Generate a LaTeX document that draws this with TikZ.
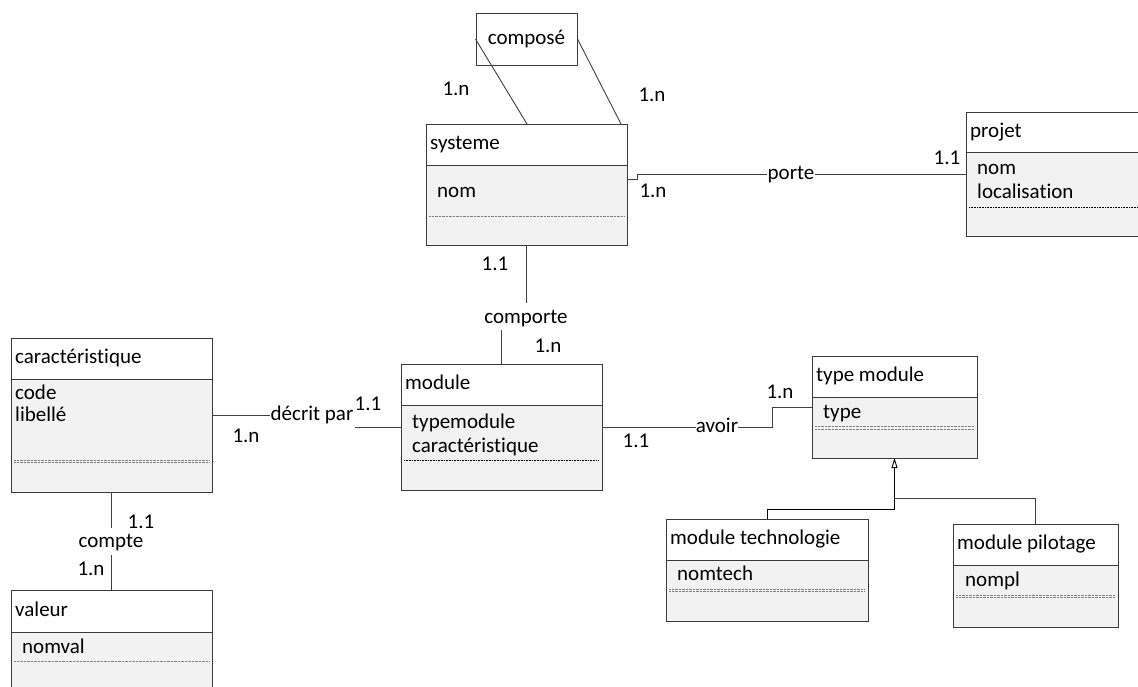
\documentclass[tikz,border=0pt]{standalone}
\usepackage{fontspec}
\setmainfont{Carlito}[Ligatures=NoCommon]
\usetikzlibrary{arrows.meta,calc}
\definecolor{bodycol}{HTML}{F2F2F2}
\definecolor{bordercol}{HTML}{3A3A3A}
\definecolor{dotcol}{HTML}{7F7F7F}
\definecolor{linecol}{HTML}{404040}
\newcommand\ent[7]{%
  \node[entshape, minimum width={(#4-#2)*1pt}, minimum height={(#5-#3)*1pt}] (#1) at ({(#2+#4)/2},{(#3+#5)/2}) {};
  \fill[bodycol] (#2,#6) rectangle (#4,#5);
  \draw[ebord] (#2,#3) rectangle (#4,#5);
  \draw[ebord] (#2,#6) -- (#4,#6);
  \node[txt] (#1-t) at ({#2+4},{(#3+#6)/2}) {#7};}
\begin{document}
\begin{tikzpicture}[x=1pt,y=-1pt,
  font=\fontsize{21}{25}\selectfont,
  entshape/.style={rectangle, inner sep=0pt, outer sep=0pt},
  ebord/.style={bordercol, line width=1pt},
  txt/.style={anchor=west, inner sep=0pt, text height=14pt, text depth=4pt},
  lbl/.style={inner sep=0pt, text height=14pt, text depth=4pt},
  conn/.style={linecol, line width=0.9pt},
  dotline/.style={dotcol, line width=0.8pt, dash pattern=on 0.7pt off 0.7pt},
  blkdot/.style={black, line width=0.7pt, dash pattern=on 0.8pt off 0.8pt}]
\useasboundingbox (0,0) rectangle (1138,686);
\clip (0,0) rectangle (1138,686);
\fill[white] (0,0) rectangle (1138,686);

% entities
\ent{sys}{426}{124}{627}{245}{165}{systeme}
\node[txt] (sys-a1) at (437,192) {nom};
\draw[dotline] (429,216) -- (624,216);

\ent{prj}{966}{112}{1170}{236}{152}{projet}
\node[txt] (prj-a1) at (977,169) {nom};
\node[txt] (prj-a2) at (977,193) {localisation};
\draw[blkdot] (969,207) -- (1170,207);

\ent{mod}{401}{364}{602}{490}{405}{module}
\node[txt] (mod-a1) at (412,423) {typemodule};
\node[txt] (mod-a2) at (412,447) {caractéristique};
\draw[blkdot] (404,460) -- (599,460);

\ent{car}{11}{338}{212}{492}{379}{caractéristique}
\node[txt] (car-a1) at (15,394) {code};
\node[txt] (car-a2) at (15,416) {libellé};
\draw[dotline] (14,460) -- (209,460);
\draw[dotline] (14,462.5) -- (209,462.5);

\ent{tm}{812}{356}{977}{458}{397}{type module}
\node[txt] (tm-a1) at (823,413) {type};
\draw[dotline] (815,426.5) -- (974,426.5);
\draw[dotline] (815,429) -- (974,429);

\ent{mt}{666}{519}{868}{621}{560}{module technologie}
\node[txt] (mt-a1) at (677,575) {nomtech};
\draw[dotline] (669,589) -- (865,589);
\draw[dotline] (669,591.5) -- (865,591.5);

\ent{mp}{953}{524}{1118}{627}{565}{module pilotage}
\node[txt] (mp-a1) at (965,581) {nompl};
\draw[dotline] (956,595) -- (1115,595);
\draw[dotline] (956,597.5) -- (1115,597.5);

\ent{val}{11}{590}{212}{700}{632}{valeur}
\node[txt] (val-a1) at (22,648) {nomval};
\draw[dotline] (14,661) -- (209,661);

% relation compose
\node[draw=bordercol, line width=1pt, fill=white, minimum width=101pt, minimum height=52pt, inner sep=0pt] (cmp) at (526.5,39) {composé};
\draw[conn] (cmp.west) -- ($(sys.north west)+(101,0)$);
\draw[conn] (cmp.east) -- ($(sys.north west)+(195,0)$);
\node[lbl] (c1) at (456,90) {1.n};
\node[lbl] (c2) at (652,96) {1.n};

% porte
\node[lbl] (po) at (791,174) {porte};
\draw[conn] ($(sys.east)+(0,-5.5)$) -- ++(10,0) -- ++(0,-5) -- (po.west);
\draw[conn] (po.east) -- (prj.west);
\node[lbl] (c3) at (653,192) {1.n};
\node[lbl] (c4) at (947,159) {1.1};

% comporte
\node[lbl] (cpo) at (526,318) {comporte};
\draw[conn] (sys.south) -- ++(0,58);
\draw[conn] (mod.north) -- ++(0,-34);
\node[lbl] (c5) at (495,265) {1.1};
\node[lbl] (c6) at (548,347) {1.n};

% decrit par
\node[lbl] (dp) at (312,415) {décrit par};
\draw[conn] (car.east) -- (dp.west);
\draw[conn] (mod.west) -- ++(-46,0);
\node[lbl] (c7) at (368,405) {1.1};
\node[lbl] (c8) at (246,437) {1.n};

% avoir
\node[lbl] (av) at (717,427) {avoir};
\draw[conn] (mod.east) -- (av.west);
\draw[conn] (av.east) -| ($(tm.west)+(-40,0)$) -- (tm.west);
\node[lbl] (c9) at (636,442) {1.1};
\node[lbl] (c10) at (780,393) {1.n};

% compte
\node[lbl] (cp) at (111,542) {compte};
\draw[conn] (car.south) -- ++(0,36);
\draw[conn] (val.north) -- ++(0,-35);
\node[lbl] (c11) at (141,523) {1.1};
\node[lbl] (c12) at (91,570) {1.n};

% inheritance
\coordinate (j1) at (894.5,509);
\coordinate (j2) at (894.5,498);
\draw[conn, black, -{Triangle[open,length=10pt,width=6pt,line width=0.9pt]}] (j1) -- (tm.south);
\draw[conn, black] (mt.north) |- (j1);
\draw[conn] (mp.north) |- (j2);
\end{tikzpicture}
\end{document}
